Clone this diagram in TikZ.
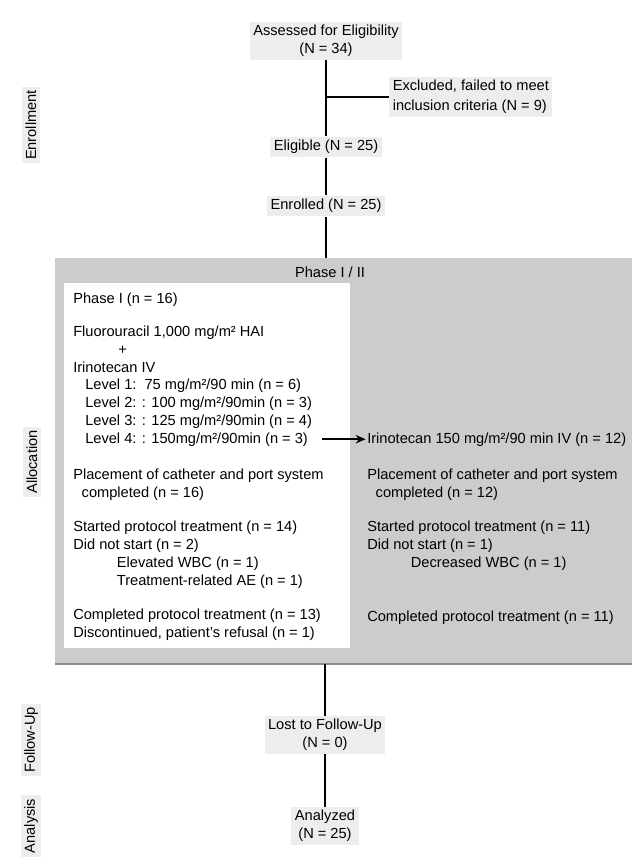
\documentclass[tikz,border=0pt]{standalone}
\usepackage{fontspec}
\setmainfont{Liberation Sans}
\usetikzlibrary{arrows.meta, positioning, calc}

\begin{document}
\begin{tikzpicture}[
    x=0.025cm, y=-0.025cm,
    every node/.style={font=\fontsize{10.4}{12.6}\selectfont, align=center},
    tag/.style={fill=black!7, inner sep=2.5pt},
    side/.style={tag, rotate=90},
    txt/.style={align=left, anchor=base west, inner sep=0pt},
    link/.style={line width=1.4pt},
    arrow/.style={-{Stealth[length=7pt, width=6pt]}, line width=1.4pt}
]
\useasboundingbox (0,0) rectangle (632,865);

% Phase I/II panel
\fill[black!20] (55,258) rectangle (632,664);
\draw[black!45, line width=0.8pt] (55,664) -- (632,664);
\fill[white] (64,283) rectangle (350,648);

% Enrollment
\node (assess) [tag] at (326,41) {Assessed for Eligibility\\(N = 34)};
\node (excl) [tag, align=left, anchor=west] at (389,97) {Excluded, failed to meet\\[1.5pt]inclusion criteria (N = 9)};
\node (elig) [tag] at (326,147) {Eligible (N = 25)};
\node (enrol) [tag] at (326,206) {Enrolled (N = 25)};
\coordinate (tee) at (assess |- excl.west);
\coordinate (ptop) at (326,258);

% Allocation (multi-line nodes sit on the baseline of their last line)
\node (phasetitle) at (330,272) {Phase I / II};

% Phase I column
\node (phaseone) [txt] at (73,303) {Phase I (n = 16)};
\node (regimen) [txt] at (73,372) {Fluorouracil 1,000 mg/m² HAI\\\hspace{32pt}+\\Irinotecan IV};
\node (doses) [txt] at (85,425) {Level 1:\ \ 75 mg/m²/90 min (n = 6)\\Level 2: : 100 mg/m²/90min (n = 3)\\Level 3: : 125 mg/m²/90min (n = 4)};
\node (lvlfour) [txt] at (85,443) {Level 4: : 150mg/m²/90min (n = 3)};
\node (placeL) [txt] at (73,497) {Placement of catheter and port system\\\hspace{6pt}completed (n = 16)};
\node (startL) [txt] at (73,585) {Started protocol treatment (n = 14)\\Did not start (n = 2)\\\hspace{31pt}Elevated WBC (n = 1)\\\hspace{31pt}Treatment-related AE (n = 1)};
\node (doneL) [txt] at (73,637) {Completed protocol treatment (n = 13)\\Discontinued, patient's refusal (n = 1)};

% Phase II column
\node (irino) [txt] at (367,443) {Irinotecan 150 mg/m²/90 min IV (n = 12)};
\node (placeR) [txt] at (367,497) {Placement of catheter and port system\\\hspace{6pt}completed (n = 12)};
\node (startR) [txt] at (367,567) {Started protocol treatment (n = 11)\\Did not start (n = 1)\\\hspace{31pt}Decreased WBC (n = 1)};
\node (doneR) [txt] at (367,621) {Completed protocol treatment (n = 11)};

% Follow-up and analysis
\coordinate (pbot) at (325,664);
\node (lost) [tag] at (325,735) {Lost to Follow-Up\\(N = 0)};
\node (anal) [tag] at (325,826) {Analyzed\\(N = 25)};

% Stage labels
\node (enrollment) [side] at (31,125) {Enrollment};
\node (allocation) [side] at (32,462) {Allocation};
\node (followup) [side] at (31,740) {Follow-Up};
\node (analysis) [side] at (31,826) {Analysis};

% Connectors
\draw[link] (assess) -- (elig);
\draw[link] (tee) -- (excl.west);
\draw[link] (elig) -- (enrol);
\draw[link] (enrol) -- (ptop);
\draw[link] (pbot) -- (lost);
\draw[link] (lost) -- (anal);
\draw[arrow, shorten <=10pt, shorten >=1pt] (lvlfour.east) -- (irino.west);

\end{tikzpicture}
\end{document}
